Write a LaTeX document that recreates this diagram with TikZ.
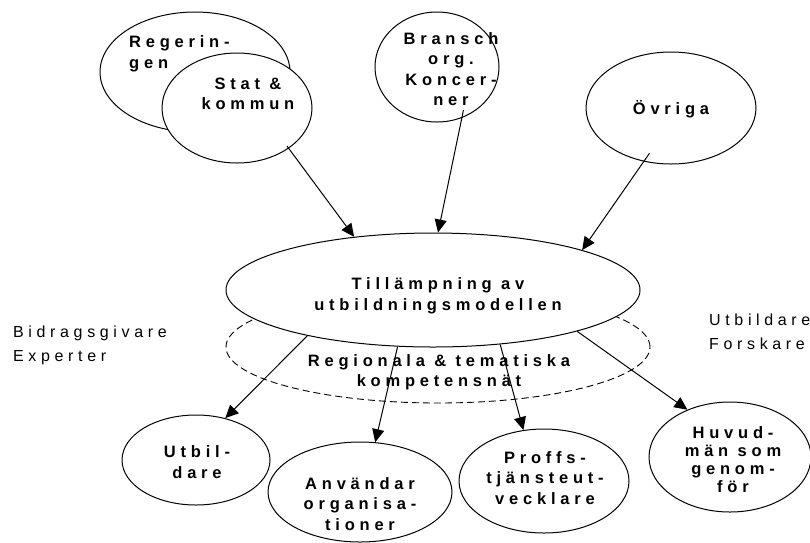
\documentclass[tikz,border=0pt]{standalone}
\usepackage{fontspec}
\setmainfont{Liberation Sans}
\newfontfamily\spf[LetterSpace=29]{Liberation Sans}
\usetikzlibrary{shapes.geometric,arrows.meta}
\begin{document}
\begin{tikzpicture}[x=1pt,y=-1pt,
  ell/.style={ellipse, draw, line width=1pt, fill=white, inner sep=0pt},
  dell/.style={ellipse, draw, line width=0.9pt, dash pattern=on 7pt off 4pt, inner sep=0pt},
  lbl/.style={font=\spf\bfseries\fontsize{16.5}{20.5}\selectfont, align=center, inner sep=0pt},
  side/.style={font=\spf\fontsize{16}{24}\selectfont, align=left, inner sep=0pt, anchor=west},
  arr/.style={line width=1pt, -{Triangle[length=13pt,width=12pt]}}]
\useasboundingbox (0,0) rectangle (810,542);
% top row
\node[ell, minimum width=190pt, minimum height=120pt] (reg) at (195,72) {};
\node[lbl, align=left, anchor=west] (treg) at (129,54) {Regerin-\\gen};
\node[ell, minimum width=150pt, minimum height=110pt] (stat) at (237,108) {};
\node[lbl] (tstat) at (248,94) {Stat \&\\kommun};
\node[ell, minimum width=124pt, minimum height=110pt] (bra) at (437,67) {};
\node[lbl] (tbra) at (451,69) {Bransch\\org.\\Koncer-\\ner};
\node[ell, minimum width=170pt, minimum height=112pt] (ovr) at (671,108) {};
\node[lbl] (tovr) at (671,109) {Övriga};
% middle
\node[dell, minimum width=424pt, minimum height=112pt] (dash) at (438,347) {};
\node[lbl] (treg2) at (439,372) {Regionala \& tematiska\\kompetensnät};
\node[ell, minimum width=414pt, minimum height=114pt] (cen) at (433,290) {};
\node[lbl] (tcen) at (438,296) {Tillämpning av\\utbildningsmodellen};
% side labels
\node[side] (bid) at (13,345) {Bidragsgivare\\Experter};
\node[side] (utf) at (709,332) {Utbildare\\Forskare};
% bottom row
\node[ell, minimum width=148pt, minimum height=90pt] (utb) at (196,460) {};
\node[lbl] (tutb) at (197,462) {Utbil-\\dare};
\node[ell, minimum width=184pt, minimum height=100pt] (anv) at (360,492) {};
\node[lbl] (tanv) at (360,504) {Användar\\organisa-\\tioner};
\node[ell, minimum width=170pt, minimum height=104pt] (pro) at (544,481) {};
\node[lbl] (tpro) at (545,478) {Proffs-\\tjänsteut-\\vecklare};
\node[ell, minimum width=162pt, minimum height=110pt] (huv) at (730,457) {};
\node[lbl, font=\spf\bfseries\fontsize{16.5}{18}\selectfont] (thuv) at (733,460) {Huvud-\\män som\\genom-\\för};
% arrows
\draw[arr, shorten <=-3pt] (stat.-38) -- (cen.146);
\draw[arr, shorten <=-8pt] (bra.-64) -- (cen.85);
\draw[arr, shorten <=-10pt] (ovr.243) -- (cen.15);
\draw[arr] (cen.200) -- (utb.55);
\draw[arr] (cen.238) -- (anv.73);
\draw[arr] (cen.-39) -- (pro.112);
\draw[arr] (cen.-16) -- (huv.132);
\end{tikzpicture}
\end{document}
